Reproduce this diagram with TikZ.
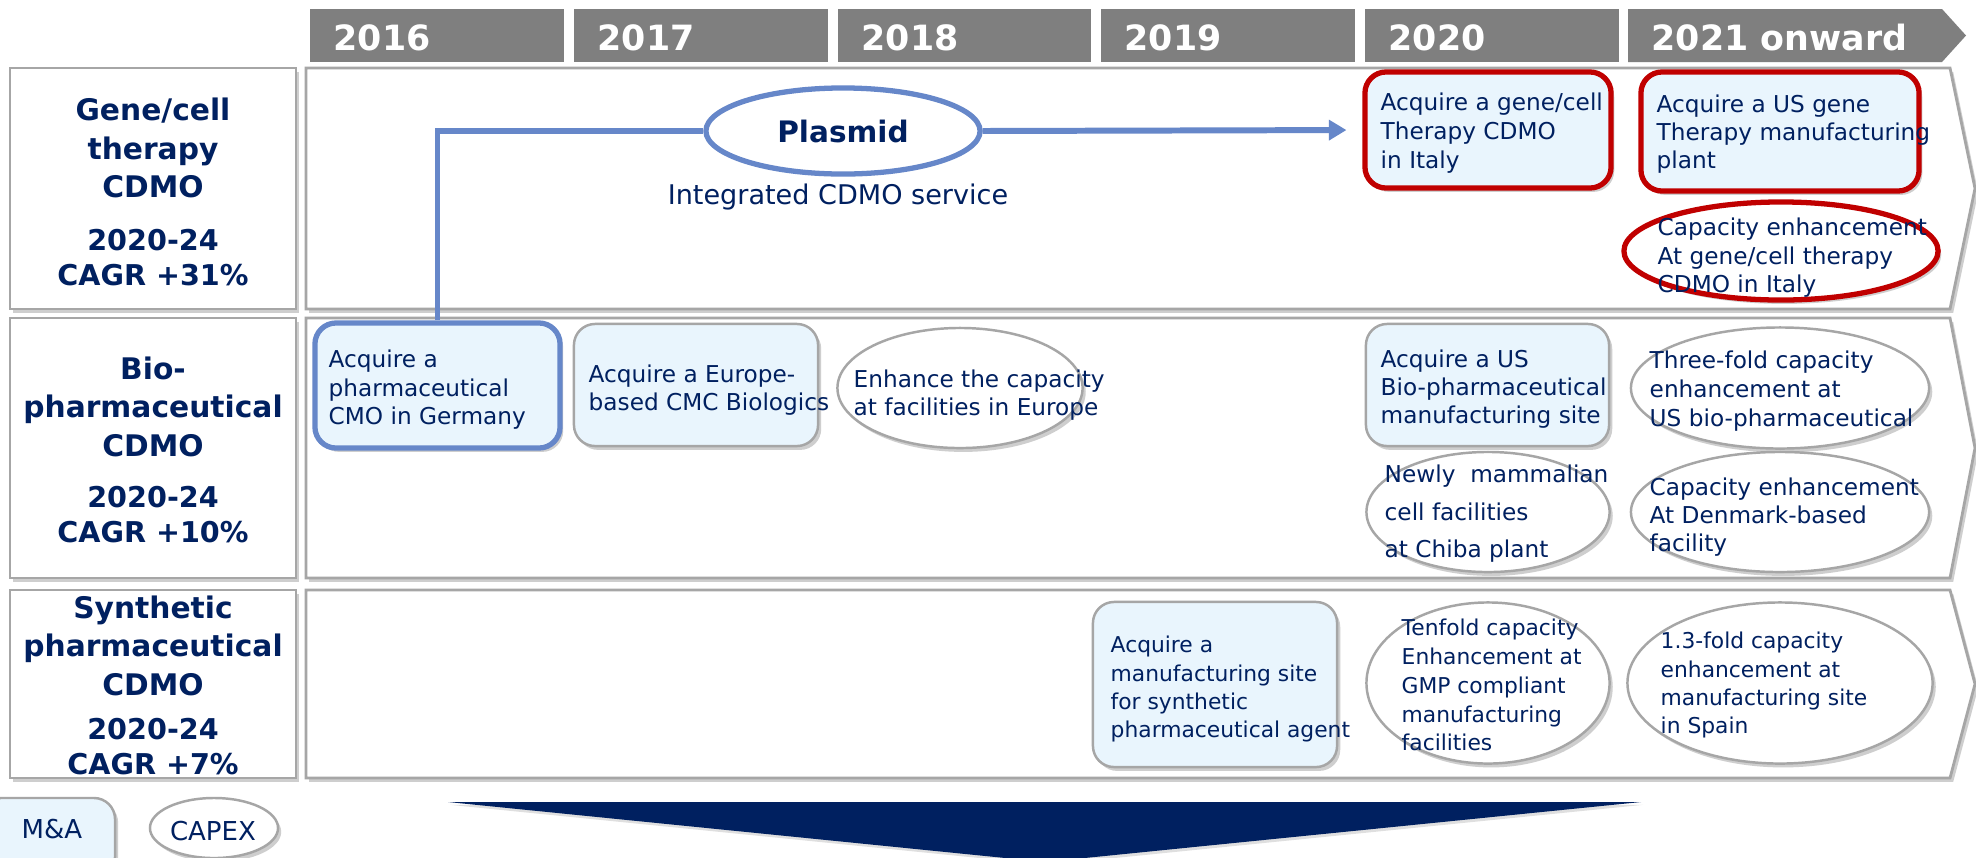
\documentclass[tikz,border=0pt]{standalone}
\usepackage{fontspec}
\setmainfont{DejaVu Sans}
\usetikzlibrary{shapes.geometric,shadows,arrows.meta}
\definecolor{navy}{HTML}{002060}
\definecolor{hdrgray}{HTML}{7F7F7F}
\definecolor{boxblue}{HTML}{E9F5FD}
\definecolor{bordergray}{HTML}{A6A6A6}
\definecolor{redline}{HTML}{C00000}
\definecolor{blueline}{HTML}{6687C9}
\tikzset{
  shd/.style={drop shadow={shadow xshift=0.9pt, shadow yshift=-1.1pt, opacity=0.35, fill=black!55}},
  yearbox/.style={fill=hdrgray, draw=none, minimum height=0.53cm, inner sep=0pt},
  yeartxt/.style={anchor=base west, inner sep=0pt, text=white, font=\fontsize{9.9}{12}\selectfont\bfseries},
  labelbox/.style={draw=bordergray, line width=0.8pt, fill=white, shd, minimum width=2.86cm, inner sep=0pt},
  rowshape/.style={draw=bordergray, line width=0.8pt, fill=white, shd},
  labname/.style={anchor=north, inner sep=0pt, align=center, text=navy, font=\fontsize{8.45}{10.95}\selectfont\bfseries},
  labcagr/.style={anchor=north, inner sep=0pt, align=center, text=navy, font=\fontsize{8.14}{9.8}\selectfont\bfseries},
  mabox/.style={rectangle, rounded corners=6pt, draw=bordergray, line width=0.7pt, fill=boxblue, shd, inner sep=0pt},
  capex/.style={ellipse, draw=bordergray, line width=0.7pt, fill=white, shd, inner sep=0pt},
  redbox/.style={mabox, draw=redline, line width=1.5pt},
  redell/.style={capex, draw=redline, line width=1.5pt},
  bluebox/.style={mabox, draw=blueline, line width=1.5pt},
  txt/.style={anchor=north west, inner sep=0pt, align=left, text=navy, font=\fontsize{6.6}{8.1}\selectfont},
  txtsm/.style={txt, font=\fontsize{6.2}{8.1}\selectfont},
  flow/.style={draw=blueline, line width=1.7pt},
}
\begin{document}
\begin{tikzpicture}[x=0.01cm, y=-0.01cm]
\useasboundingbox (0,0) rectangle (1976,857);
\fill[white] (0,0) rectangle (1976,857);

% year header
\node[yearbox, minimum width=2.54cm] (h16) at (437,35.5) {};
\node[yearbox, minimum width=2.54cm] (h17) at (701,35.5) {};
\node[yearbox, minimum width=2.53cm] (h18) at (964.5,35.5) {};
\node[yearbox, minimum width=2.54cm] (h19) at (1228,35.5) {};
\node[yearbox, minimum width=2.54cm] (h20) at (1492,35.5) {};
\path[fill=hdrgray] (1628,9) -- (1942,9) -- (1966,35.5) -- (1942,62) -- (1628,62) -- cycle;
\node[yeartxt] (t16) at (333,50) {2016};
\node[yeartxt] (t17) at (597,50) {2017};
\node[yeartxt] (t18) at (861,50) {2018};
\node[yeartxt] (t19) at (1124,50) {2019};
\node[yeartxt] (t20) at (1388,50) {2020};
\node[yeartxt] (t21) at (1651,50) {2021 onward};

% label boxes
\node[labelbox, minimum height=2.41cm] (L1) at (153,188.5) {};
\node[labelbox, minimum height=2.60cm] (L2) at (153,448) {};
\node[labelbox, minimum height=1.88cm] (L3) at (153,684) {};
\node[labname] (n1) at (153,97.4) {Gene/cell\\therapy\\CDMO};
\node[labcagr] (c1) at (153,229) {2020-24\\CAGR +31\%};
\node[labname] (n2) at (153,356) {Bio-\\pharmaceutical\\CDMO};
\node[labcagr] (c2) at (153,486) {2020-24\\CAGR +10\%};
\node[labname] (n3) at (153,595) {Synthetic\\pharmaceutical\\CDMO};
\node[labcagr] (c3) at (153,718) {2020-24\\CAGR +7\%};

% content rows
\path[rowshape] (306,68) -- (1950,68) -- (1975,188.5) -- (1950,309) -- (306,309) -- cycle;
\path[rowshape] (306,318) -- (1950,318) -- (1975,448) -- (1950,578) -- (306,578) -- cycle;
\path[rowshape] (306,590) -- (1950,590) -- (1975,684) -- (1950,778) -- (306,778) -- cycle;

% row 1
\node[redbox, minimum width=2.46cm, minimum height=1.16cm] (B1) at (1488,130) {};
\node[redbox, minimum width=2.78cm, minimum height=1.19cm] (B2) at (1780,131.5) {};
\node[redell, minimum width=3.14cm, minimum height=0.98cm] (E1) at (1781,251) {};
\node[ellipse, draw=blueline, line width=1.5pt, fill=white, minimum width=2.74cm, minimum height=0.86cm, inner sep=0pt, text=navy, font=\fontsize{8.4}{10}\selectfont\bfseries] (P) at (843,131) {Plasmid};
\node[anchor=base, inner sep=0pt, text=navy, font=\fontsize{7.7}{9}\selectfont] (IC) at (838,204) {Integrated CDMO service};

% row 2
\node[bluebox, minimum width=2.45cm, minimum height=1.25cm] (G) at (437.5,385.5) {};
\node[mabox, minimum width=2.44cm, minimum height=1.22cm] (EU) at (696,385) {};
\node[capex, minimum width=2.45cm, minimum height=1.20cm] (E2) at (960,388) {};
\node[mabox, minimum width=2.43cm, minimum height=1.22cm] (B3) at (1487.5,385) {};
\node[capex, minimum width=2.98cm, minimum height=1.21cm] (E3) at (1780,388) {};
\node[capex, minimum width=2.43cm, minimum height=1.20cm] (E4) at (1488,512) {};
\node[capex, minimum width=2.98cm, minimum height=1.20cm] (E5) at (1780,512) {};

% row 3
\node[mabox, minimum width=2.44cm, minimum height=1.65cm] (B4) at (1215,684.5) {};
\node[capex, minimum width=2.43cm, minimum height=1.61cm] (E6) at (1488,683) {};
\node[capex, minimum width=3.05cm, minimum height=1.61cm] (E7) at (1780,683) {};

% connectors
\draw[flow] (G.north) |- (P.west);
\draw[flow, -{Triangle[length=5pt,width=5.6pt]}, shorten >=4.5pt] (P.east) -- (B1.west);

% texts
\node[txt, font=\fontsize{6.6}{8.25}\selectfont] (T1) at (1380,92.4) {Acquire a gene/cell\\Therapy CDMO\\in Italy};
\node[txt, font=\fontsize{6.6}{7.97}\selectfont] (T2) at (1656,94.4) {Acquire a US gene\\Therapy manufacturing\\plant};
\node[txt] (T3) at (1657,217.4) {Capacity enhancement\\At gene/cell therapy\\CDMO in Italy};
\node[txt] (TG) at (328,349.4) {Acquire a\\pharmaceutical\\CMO in Germany};
\node[txt, font=\fontsize{6.6}{7.97}\selectfont] (TEU) at (588,364.4) {Acquire a Europe-\\based CMC Biologics};
\node[txt, font=\fontsize{6.6}{7.97}\selectfont] (TE2) at (853,369.4) {Enhance the capacity\\at facilities in Europe};
\node[txt, font=\fontsize{6.6}{7.97}\selectfont] (TB3) at (1380,349.4) {Acquire a US\\Bio-pharmaceutical\\manufacturing site};
\node[txt, font=\fontsize{6.6}{8.25}\selectfont] (TE3) at (1649,350.4) {Three-fold capacity\\enhancement at\\US bio-pharmaceutical};
\node[txt, font=\fontsize{6.6}{10.67}\selectfont] (TE4) at (1384,464.4) {Newly\ \ mammalian\\cell facilities\\at Chiba plant};
\node[txt, font=\fontsize{6.6}{7.97}\selectfont] (TE5) at (1649,477.4) {Capacity enhancement\\At Denmark-based\\facility};
\node[txtsm, font=\fontsize{6.2}{8.06}\selectfont] (TB4) at (1110,635.5) {Acquire a\\manufacturing site\\for synthetic\\pharmaceutical agent};
\node[txtsm, font=\fontsize{6.2}{8.18}\selectfont] (TE6) at (1401,618.5) {Tenfold capacity\\Enhancement at\\GMP compliant\\manufacturing\\facilities};
\node[txtsm, font=\fontsize{6.2}{8.06}\selectfont] (TE7) at (1660,631.5) {1.3-fold capacity\\enhancement at\\manufacturing site\\in Spain};

% legend
\node[mabox, minimum width=1.35cm, minimum height=0.80cm] (LM) at (47.5,838) {};
\node[anchor=base, inner sep=0pt, text=navy, font=\fontsize{7.4}{9}\selectfont] (LMt) at (52,838) {M\&A};
\node[capex, minimum width=1.28cm, minimum height=0.60cm] (LC) at (214,828) {};
\node[anchor=base, inner sep=0pt, text=navy, font=\fontsize{7.4}{9}\selectfont] (LCt) at (213,840) {CAPEX};

% bottom triangle
\path[fill=navy, drop shadow={shadow xshift=0.6pt, shadow yshift=-0.8pt, opacity=0.25, fill=black!50}] (448,802) -- (1641,802) -- (1045,862) -- cycle;
\end{tikzpicture}
\end{document}
